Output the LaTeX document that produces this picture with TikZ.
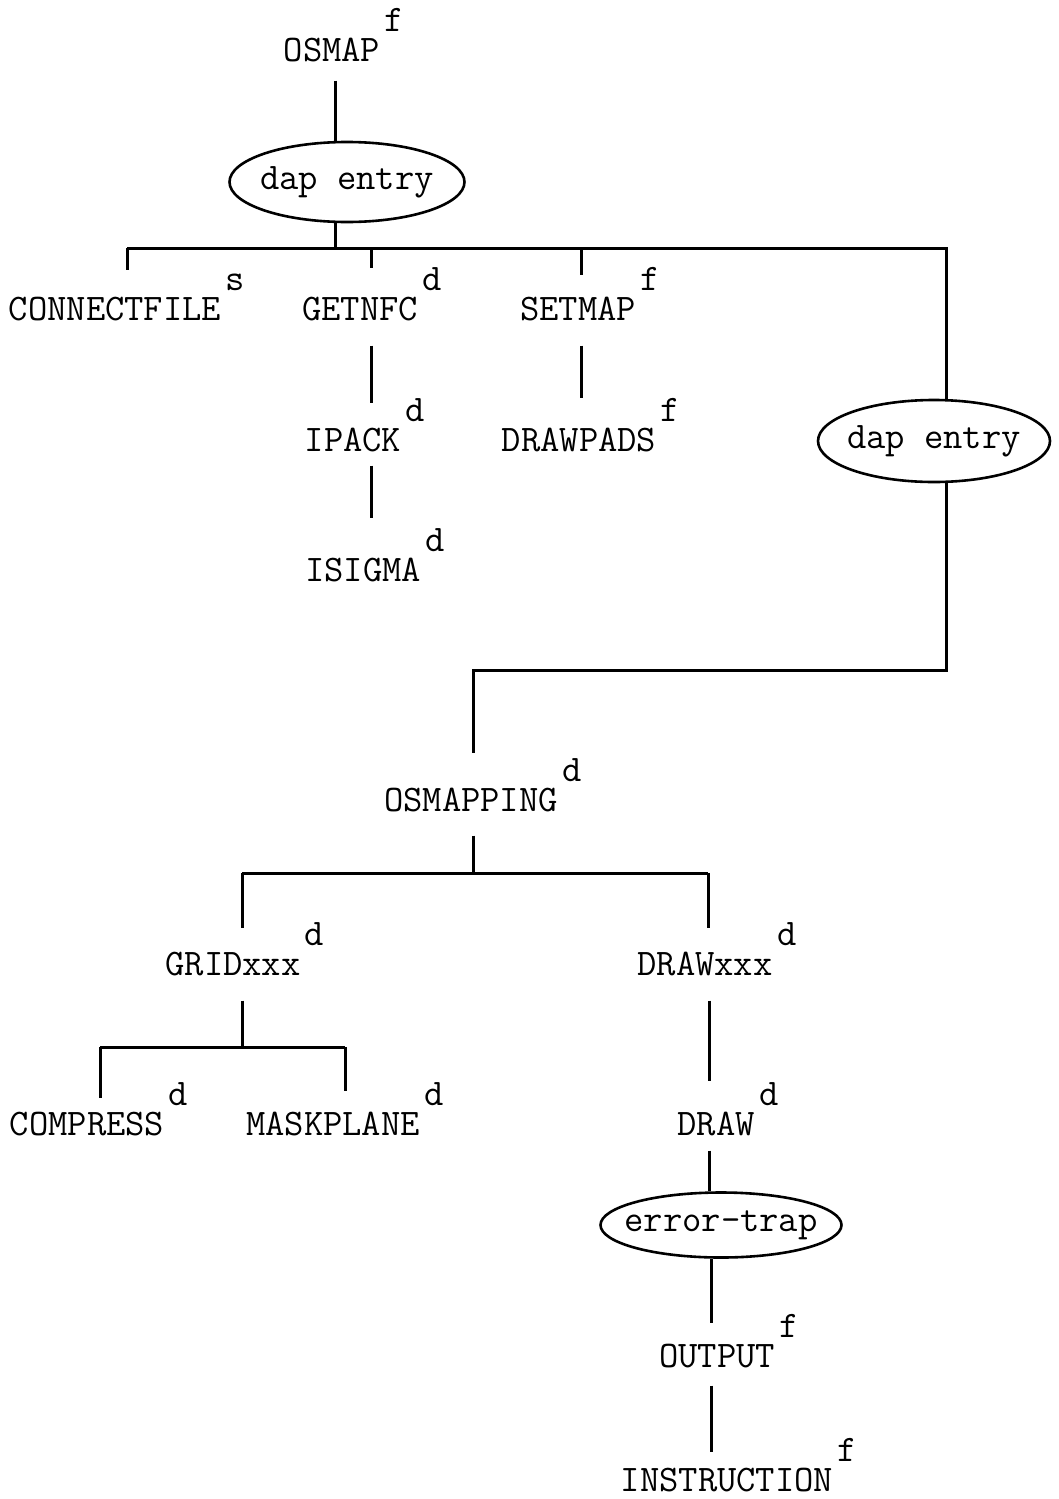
\documentclass[tikz,border=0pt]{standalone}
\usepackage{fontspec}
\usetikzlibrary{shapes.geometric}

\begin{document}
\begin{tikzpicture}[x=1pt, y=-1pt,
  font=\fontsize{37.5}{42}\selectfont\ttfamily,
  fn/.style={inner sep=1pt, anchor=base},
  tag/.style={label={[anchor=base west, inner sep=0pt, xshift=3pt, yshift=18pt]east:#1}},
  entry/.style={ellipse, draw, line width=2.6pt, inner sep=0pt},
  link/.style={line width=3pt},
]
  \useasboundingbox (0,0) rectangle (1059,1499);

  % top level
  \node[fn, tag=f] (osmap) at (332,61) {OSMAP};
  \node[entry, minimum width=235pt, minimum height=80pt] (dapA) at (347,182) {\makebox[0pt]{dap entry}};

  \node[fn, tag=s] (connect) at (115,320) {CONNECTFILE};
  \node[fn, tag=d] (getnfc) at (360,320) {GETNFC};
  \node[fn, tag=f] (setmap) at (578,320) {SETMAP};
  \node[fn, tag=d] (ipack) at (353,451) {IPACK};
  \node[fn, tag=d] (isigma) at (363,581) {ISIGMA};
  \node[fn, tag=f] (drawpads) at (579,451) {DRAWPADS};
  \node[entry, minimum width=232pt, minimum height=82pt] (dapB) at (934,441) {\makebox[0pt]{dap entry}};

  % second level
  \node[fn, tag=d] (osmapping) at (471,811) {OSMAPPING};
  \node[fn, tag=d] (gridxxx) at (233,975) {GRIDxxx};
  \node[fn, tag=d] (drawxxx) at (705,975) {DRAWxxx};
  \node[fn, tag=d] (compress) at (87,1135) {COMPRESS};
  \node[fn, tag=d] (maskplane) at (333,1135) {MASKPLANE};
  \node[fn, tag=d] (draw) at (716,1135) {DRAW};
  \node[entry, minimum width=241pt, minimum height=65pt] (errtrap) at (721,1225) {\makebox[0pt]{error-trap}};
  \node[fn, tag=f] (output) at (717,1367) {OUTPUT};
  \node[fn, tag=f] (instr) at (727,1491) {INSTRUCTION};

  \coordinate (busA) at (335,248);
  \coordinate (bend) at (946,670);
  \coordinate (busB) at (473,873);
  \coordinate (busC) at (242,1047);

  % connectors
  \draw[link, shorten <=18pt] (osmap.south -| 335,0) -- (dapA.north -| 335,0);
  \draw[link] (dapA.south -| busA) -- (busA);
  \draw[link] (busA -| 127,0) -- (busA -| 946,0) -- (dapB.north -| 946,0);
  \draw[link, shorten >=25pt] (busA -| 127,0) -- (connect.north -| 127,0);
  \draw[link, shorten >=27pt] (busA -| 371,0) -- (getnfc.north -| 371,0);
  \draw[link, shorten >=20pt] (busA -| 581,0) -- (setmap.north -| 581,0);
  \draw[link, shorten <=24pt, shorten >=23pt] (getnfc.south -| 371,0) -- (ipack.north -| 371,0);
  \draw[link, shorten <=13pt, shorten >=38pt] (ipack.south -| 371,0) -- (isigma.north -| 371,0);
  \draw[link, shorten <=24pt, shorten >=28pt] (setmap.south -| 581,0) -- (drawpads.north -| 581,0);
  \draw[link, shorten >=33pt] (dapB.south -| bend) -- (bend) -| (osmapping.north -| busB);

  \draw[link, shorten <=23pt] (osmapping.south -| busB) -- (busB);
  \draw[link] (busB -| 242,0) -- (busB -| 708,0);
  \draw[link, shorten >=22pt] (busB -| 242,0) -- (gridxxx.north -| 242,0);
  \draw[link, shorten >=22pt] (busB -| 708,0) -- (drawxxx.north -| 708,0);
  \draw[link, shorten <=24pt] (gridxxx.south -| busC) -- (busC);
  \draw[link] (busC -| 100,0) -- (busC -| 345,0);
  \draw[link, shorten >=12pt] (busC -| 100,0) -- (compress.north -| 100,0);
  \draw[link, shorten >=19pt] (busC -| 345,0) -- (maskplane.north -| 345,0);
  \draw[link, shorten <=24pt, shorten >=29pt] (drawxxx.south -| 709,0) -- (draw.north -| 709,0);
  \draw[link, shorten <=14pt] (draw.south -| 709,0) -- (errtrap.north -| 709,0);
  \draw[link, shorten >=19pt] (errtrap.south -| 711,0) -- (output.north -| 711,0);
  \draw[link, shorten <=17pt, shorten >=14pt] (output.south -| 711,0) -- (instr.north -| 711,0);
\end{tikzpicture}
\end{document}
